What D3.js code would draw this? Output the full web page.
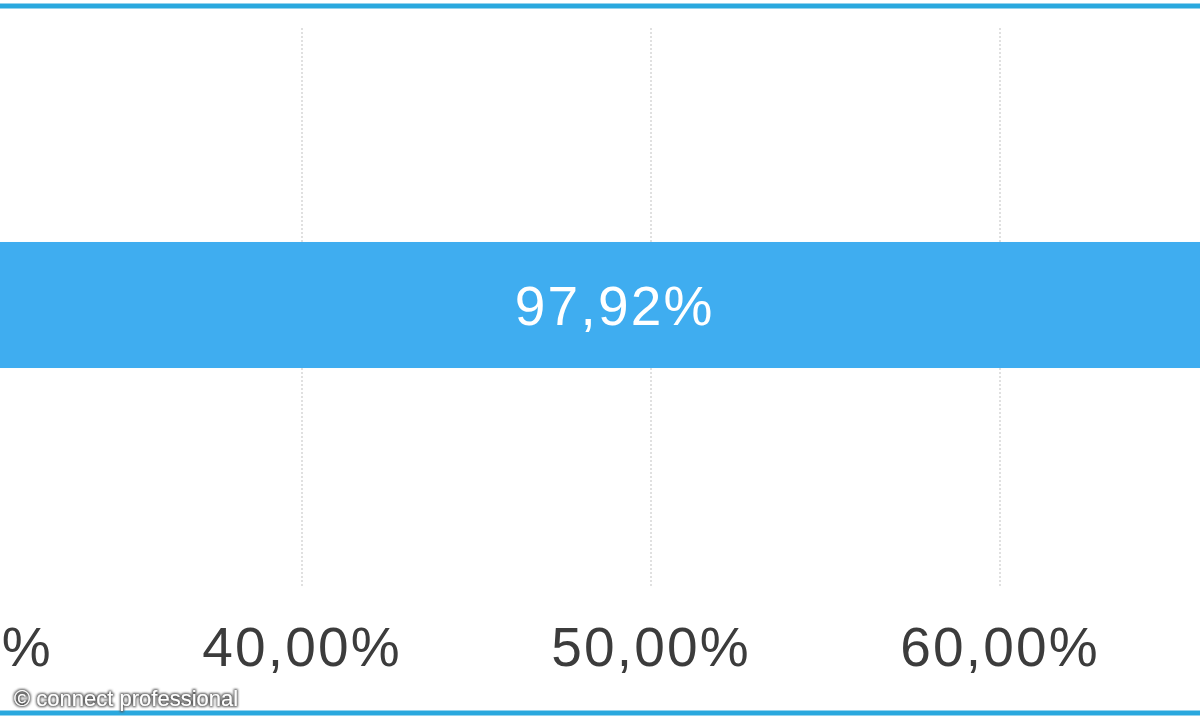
<!DOCTYPE html>
<html>
<head>
<meta charset="utf-8">
<script src="https://cdn.jsdelivr.net/npm/d3@7"></script>
<style>
  html, body { margin: 0; padding: 0; background: #ffffff; overflow: hidden; }
  svg { display: block; }
</style>
</head>
<body>
<svg id="chart" width="1200" height="720"></svg>
<script>
// ---- data ----
const categories = ["Anteil"];
const values = [97.92];
const tickValues = [30, 40, 50, 60];
const tickLabels = ["30,00%", "40,00%", "50,00%", "60,00%"];
const credit = "© connect professional";

// ---- layout ----
const W = 1200, H = 720;
const svg = d3.select("#chart");

// visible window is a crop of a much wider chart
const x = d3.scaleLinear().domain([0, 100]).range([-1094, 2396]);
const y = d3.scaleBand().domain(categories).range([30, 580]).paddingInner(0).paddingOuter(1.682);

const fmt = v => d3.format(".2f")(v).replace(".", ",") + "%";

// gridlines
svg.append("g").selectAll("line").data(tickValues).join("line")
  .attr("x1", d => x(d)).attr("x2", d => x(d))
  .attr("y1", 28).attr("y2", 588)
  .attr("stroke", "#e0e0e0").attr("stroke-width", 2)
  .attr("stroke-dasharray", "2,2");

// bars
const bars = svg.append("g");
bars.selectAll("rect").data(values).join("rect")
  .attr("x", x(0))
  .attr("y", (d, i) => y(categories[i]))
  .attr("width", d => x(d) - x(0))
  .attr("height", y.bandwidth())
  .attr("fill", "#3fadf0");

bars.selectAll("text").data(values).join("text")
  .attr("x", d => (x(0) + x(d)) / 2)
  .attr("y", (d, i) => y(categories[i]) + y.bandwidth() / 2)
  .attr("dy", "0.36em")
  .attr("text-anchor", "middle")
  .attr("fill", "#ffffff")
  .attr("font-family", "'Liberation Sans', Arial, sans-serif")
  .attr("font-size", 55)
  .style("letter-spacing", "2.2px")
  .text(d => fmt(d));

// x axis labels
svg.append("g").selectAll("text").data(tickValues).join("text")
  .attr("x", d => x(d))
  .attr("y", 666)
  .attr("text-anchor", "middle")
  .attr("fill", "#3c3c3c")
  .attr("font-family", "'Liberation Sans', Arial, sans-serif")
  .attr("font-size", 55)
  .style("letter-spacing", "2.2px")
  .text((d, i) => tickLabels[i]);

// frame lines
svg.append("line").attr("x1", 0).attr("x2", W).attr("y1", 6).attr("y2", 6)
  .attr("stroke", "#2aa8de").attr("stroke-width", 5);
svg.append("line").attr("x1", 0).attr("x2", W).attr("y1", 713).attr("y2", 713)
  .attr("stroke", "#2aa8de").attr("stroke-width", 5);

// credit
const defs = svg.append("defs");
const f = defs.append("filter").attr("id", "glow").attr("x", "-10%").attr("y", "-30%").attr("width", "120%").attr("height", "160%");
f.append("feMorphology").attr("in", "SourceAlpha").attr("operator", "dilate").attr("radius", 1.2).attr("result", "d");
f.append("feGaussianBlur").attr("in", "d").attr("stdDeviation", 1.2).attr("result", "b");
f.append("feFlood").attr("flood-color", "#555555").attr("result", "c");
f.append("feComposite").attr("in", "c").attr("in2", "b").attr("operator", "in").attr("result", "s");
const m = f.append("feMerge");
m.append("feMergeNode").attr("in", "s");
m.append("feMergeNode").attr("in", "SourceGraphic");

svg.append("text")
  .attr("x", 14).attr("y", 706)
  .attr("fill", "#ffffff")
  .attr("font-family", "'Liberation Sans', Arial, sans-serif")
  .attr("font-size", 22)
  .attr("filter", "url(#glow)")
  .text(credit);
</script>
</body>
</html>
